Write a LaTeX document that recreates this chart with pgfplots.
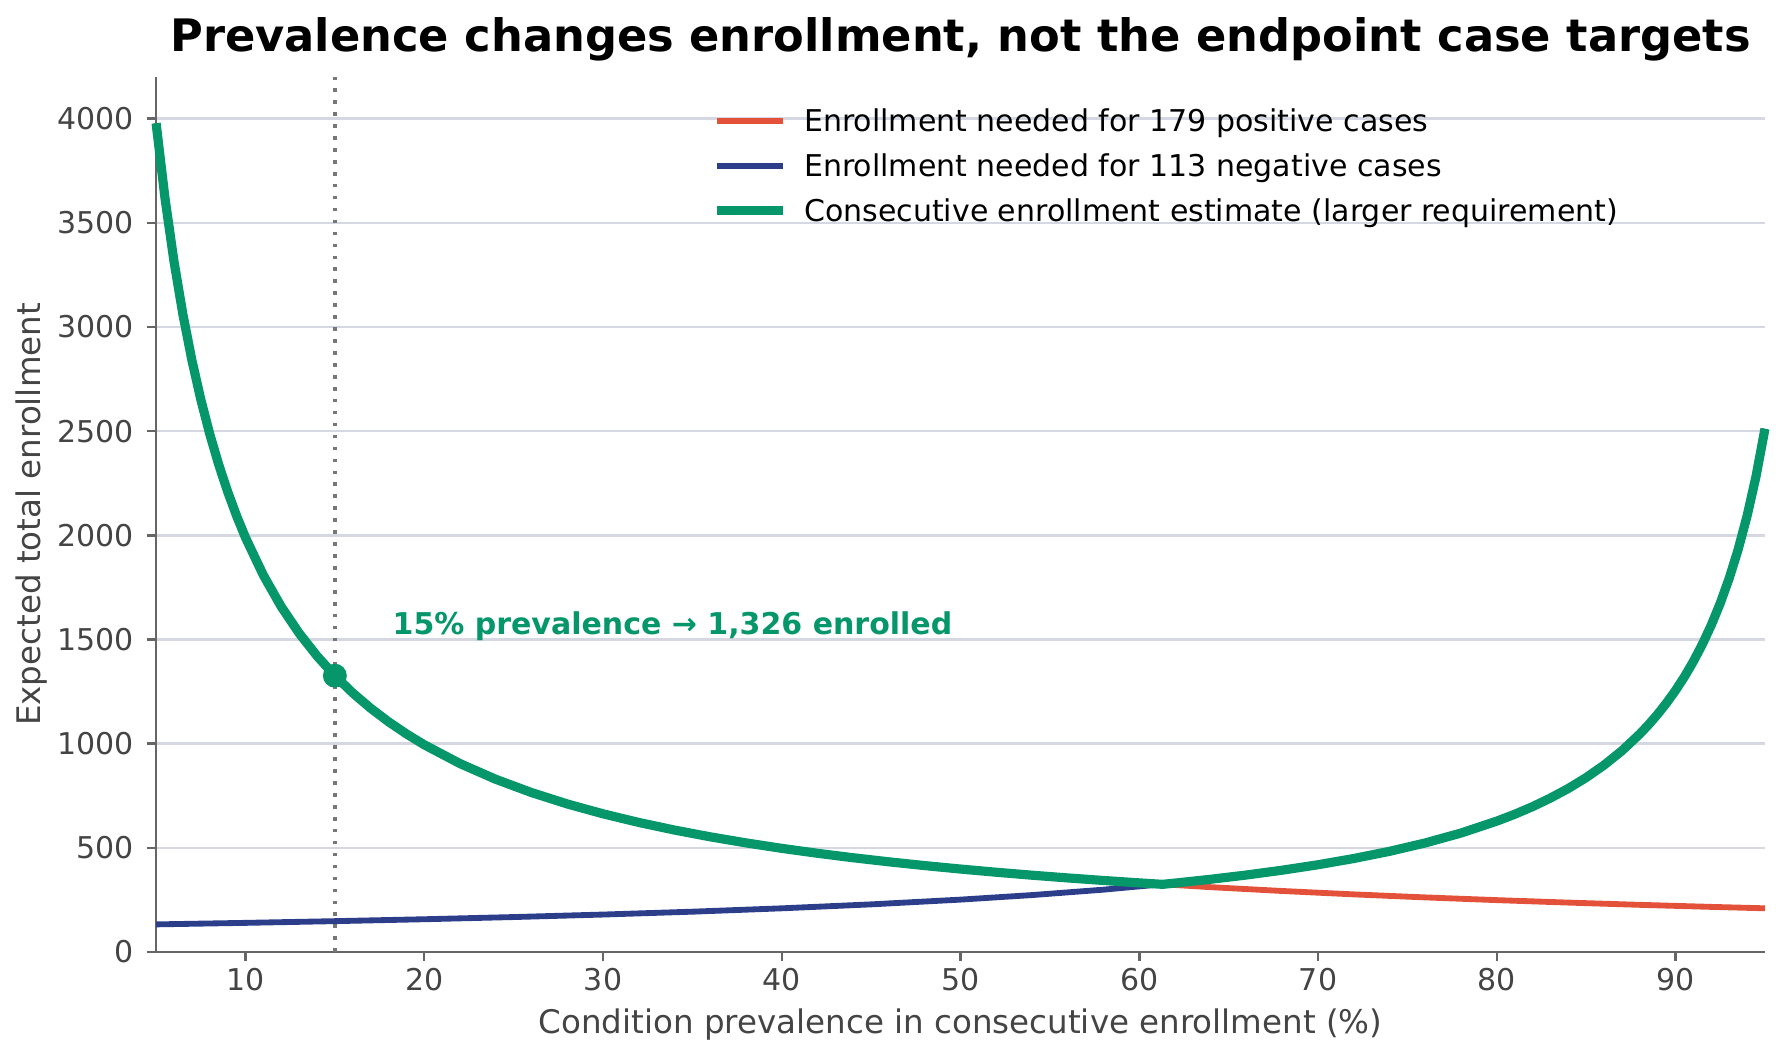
\documentclass[border=0pt]{standalone}
\usepackage{pgfplots}
\pgfplotsset{compat=1.18}
\usepackage{pgfplotstable}
\usepackage{fontspec}
\setmainfont{DejaVu Sans}
\definecolor{cred}{HTML}{E4513A}
\definecolor{cblue}{HTML}{2C3E8A}
\definecolor{cgreen}{HTML}{05966A}
\definecolor{cgrid}{HTML}{D5D8E3}
\definecolor{ctext}{HTML}{444444}
\definecolor{cspine}{HTML}{666666}
\definecolor{cdot}{HTML}{777777}

\pgfplotstableread{
x y
5 3977.8
6 3314.8
7 2841.3
8 2486.1
9 2209.9
10 1988.9
12 1657.4
14 1420.6
16 1243.1
18 1104.9
20 994.4
24 828.7
28 710.3
32 621.5
36 552.5
40 497.2
44 452.0
48 414.4
52 382.5
56 355.2
60 331.5
64 310.8
68 292.5
72 276.2
76 261.7
80 248.6
84 236.8
88 226.0
92 216.2
95 209.4
}\positive

\pgfplotstableread{
x y
5 132.2
10 139.5
15 147.7
20 156.9
25 167.4
30 179.4
35 193.2
40 209.3
45 228.3
50 251.1
54 272.9
58 298.9
62 330.4
66 369.3
70 418.5
74 482.9
78 570.7
80 627.8
82 697.5
84 784.7
86 896.8
88 1046.3
89 1141.4
90 1255.6
91 1395.1
92 1569.5
93 1793.7
94 2092.6
94.5 2282.8
95 2511.1
}\negative

\pgfplotstableread{
x y
5 3977.8
5.5 3616.2
6 3314.8
6.5 3059.8
7 2841.3
7.5 2651.9
8 2486.1
8.5 2339.9
9 2209.9
9.5 2093.6
10 1988.9
11 1808.1
12 1657.4
13 1529.9
14 1420.6
15 1325.9
16 1243.1
17 1169.9
18 1104.9
19 1046.8
20 994.4
22 904.0
24 828.7
26 765.0
28 710.3
30 663.0
32 621.5
34 585.0
36 552.5
38 523.4
40 497.2
42 473.5
44 452.0
46 432.4
48 414.4
50 397.8
52 382.5
54 368.3
56 355.2
58 342.9
60 331.5
61.3 324.4
62 330.4
64 348.8
66 369.3
68 392.4
70 418.5
72 448.4
74 482.9
76 523.2
78 570.7
80 627.8
81 660.8
82 697.5
83 738.6
84 784.7
85 837.0
86 896.8
87 965.8
88 1046.3
88.5 1091.8
89 1141.4
89.5 1195.8
90 1255.6
90.5 1321.6
91 1395.1
91.5 1477.1
92 1569.5
92.5 1674.1
93 1793.7
93.5 1931.6
94 2092.6
94.5 2282.8
95 2511.1
}\combined

\begin{document}
\begin{tikzpicture}
\begin{axis}[
  scale only axis,
  width=579.2pt, height=315pt,
  xmin=5, xmax=95, ymin=0, ymax=4200,
  xtick={10,20,...,90},
  ytick={0,500,...,4000},
  axis x line*=bottom, axis y line*=left,
  axis line style={cspine, line width=0.9pt},
  tick align=outside,
  major tick length=3.3pt,
  tick style={cspine, line width=0.9pt},
  ymajorgrids, xmajorgrids=false,
  grid style={cgrid, line width=0.9pt},
  /pgf/number format/assume math mode=true,
  /pgf/number format/set thousands separator={},
  ticklabel style={font=\fontsize{10.8}{12}\selectfont, text=ctext},
  xticklabel style={inner sep=0pt, yshift=-2.5pt},
  yticklabel style={inner sep=0pt, xshift=-4.5pt},
  xlabel={Condition prevalence in consecutive enrollment (\%)},
  ylabel={Expected total enrollment},
  label style={font=\fontsize{11.7}{13}\selectfont, text=ctext},
  xlabel style={at={(axis description cs:0.5,0)}, anchor=center, yshift=-26pt},
  ylabel style={at={(axis description cs:0,0.5)}, anchor=center, rotate=0, yshift=44.7pt},
  title={Prevalence changes enrollment, not the endpoint case targets},
  title style={font=\fontsize{16.1}{18}\selectfont\bfseries, at={(axis description cs:0.5,1)}, anchor=center, yshift=7.4pt},
  legend cell align=left,
  legend image code/.code={\draw[#1] (0pt,1.1pt) -- (24pt,1.1pt);},
  legend style={at={(axis description cs:0.3452,0.964)}, anchor=north west,
    draw=none, fill=none, inner sep=0pt, column sep=5.9pt, row sep=5.6pt,
    font=\fontsize{10.8}{12}\selectfont,
    nodes={inner sep=0pt, text height=8pt, text depth=2.6pt}},
  clip=false,
]
\addplot[cdot, line width=1.3pt, dash pattern=on 1.3pt off 3pt, forget plot] coordinates {(15,0) (15,4200)};
\addplot[cred, line width=2.1pt] table[x=x,y=y] {\positive};
\addlegendentry{Enrollment needed for 179 positive cases}
\addplot[cblue, line width=2.1pt] table[x=x,y=y] {\negative};
\addlegendentry{Enrollment needed for 113 negative cases}
\addplot[cgreen, line width=3.3pt, line join=round] table[x=x,y=y] {\combined};
\addlegendentry{Consecutive enrollment estimate (larger requirement)}
\addplot[only marks, mark=*, mark size=4.1pt, cgreen, forget plot] coordinates {(15,1325.9)};
\node[anchor=west, inner sep=0pt, text=cgreen, font=\fontsize{10.8}{12}\selectfont\bfseries] at (axis cs:18.2,1565) {15\% prevalence → 1,326 enrolled};
\end{axis}
\pgfresetboundingbox
\path[use as bounding box] ([shift={(-56.2pt,-38.5pt)}]current axis.south west) rectangle ([shift={(6.5pt,27.7pt)}]current axis.north east);
\end{tikzpicture}
\end{document}
